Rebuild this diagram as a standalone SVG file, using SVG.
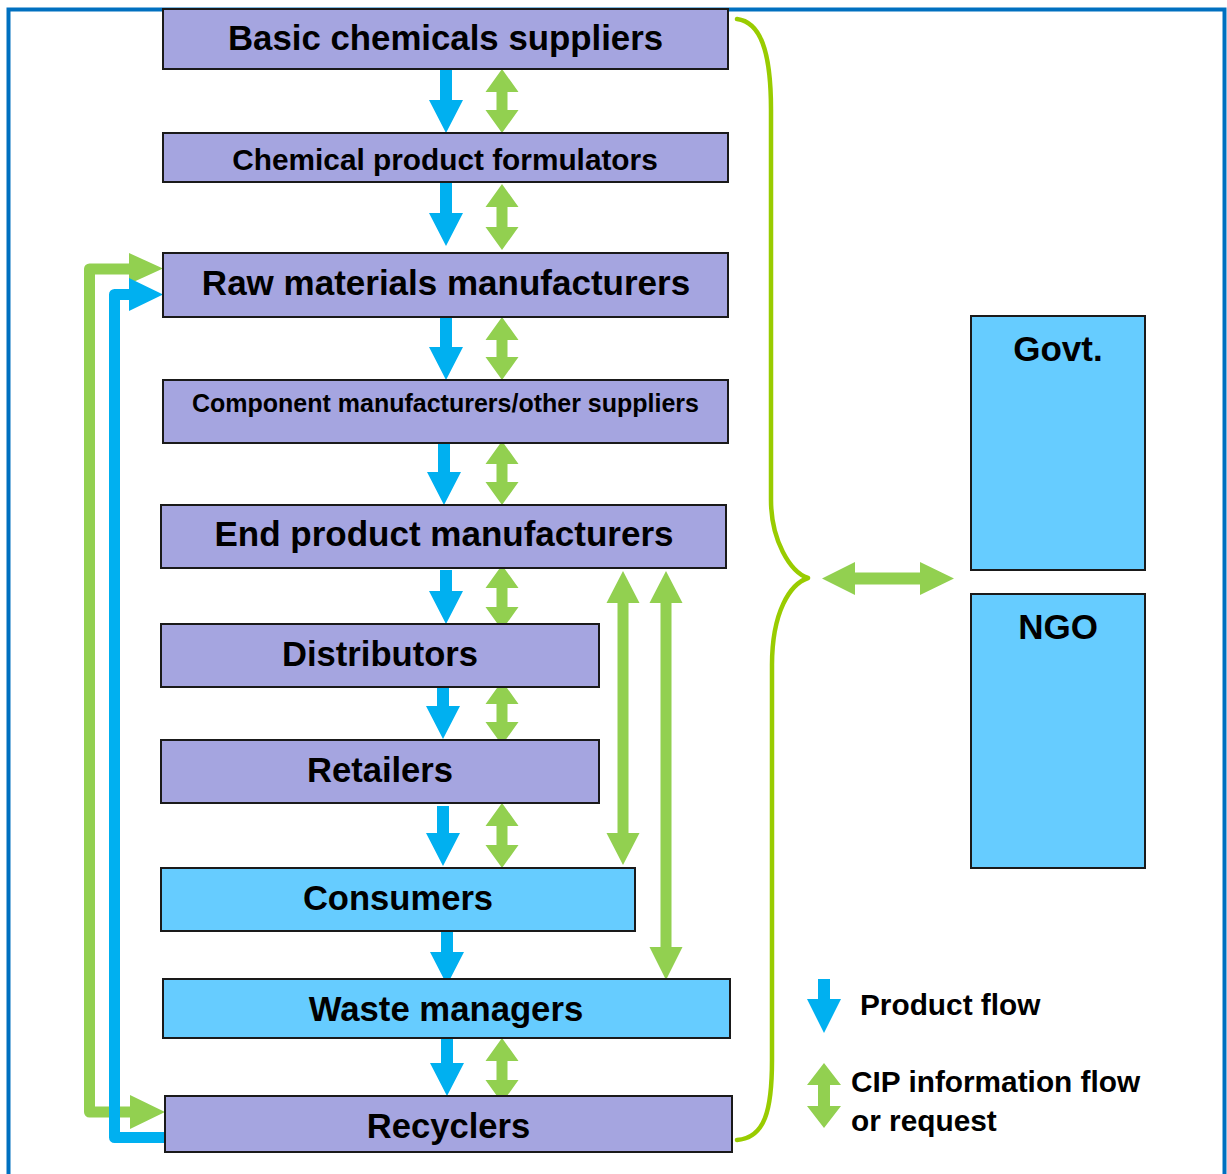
<svg xmlns="http://www.w3.org/2000/svg" width="1227" height="1174" viewBox="0 0 1227 1174">
<style>
.frame{fill:none;stroke:#0070C0;stroke-width:4}
.box{stroke:#1a1a1a;stroke-width:2}
.purple{fill:#A5A5E0}
.lblue{fill:#66CCFF}
.t{font-family:"Liberation Sans",Arial,sans-serif;font-weight:bold;fill:#000;text-anchor:middle}
.lt{font-family:"Liberation Sans",Arial,sans-serif;font-weight:bold;fill:#000}
.ba{fill:#00B0F0}
.ga{fill:#92D050}
.gl{fill:none;stroke:#92D050;stroke-width:11;stroke-linejoin:round}
.bl{fill:none;stroke:#00B0F0;stroke-width:11;stroke-linejoin:round}
.brace{fill:none;stroke:#99CC00;stroke-width:4.5;stroke-linecap:round;stroke-linejoin:round}
</style>
<rect class="frame" x="8.5" y="9.5" width="1216" height="1200"/>

<g id="connectors">
  <!-- product flow (blue) arrows -->
  <polygon class="ba" points="440,69 452,69 452,100 463,100 446,133 429,100 440,100"/>
  <polygon class="ba" points="440,182 452,182 452,213 463,213 446,246 429,213 440,213"/>
  <polygon class="ba" points="440,317 452,317 452,347 463,347 446,380 429,347 440,347"/>
  <polygon class="ba" points="438,441 450,441 450,472 461,472 444,505 427,472 438,472"/>
  <polygon class="ba" points="440,570 452,570 452,591 463,591 446,624 429,591 440,591"/>
  <polygon class="ba" points="437,687 449,687 449,706 460,706 443,739 426,706 437,706"/>
  <polygon class="ba" points="437,806 449,806 449,833 460,833 443,866 426,833 437,833"/>
  <polygon class="ba" points="441,931 453,931 453,952 464,952 447,985 430,952 441,952"/>
  <polygon class="ba" points="441,1038 453,1038 453,1063 464,1063 447,1096 430,1063 441,1063"/>

  <!-- CIP (green) double arrows -->
  <polygon class="ga" points="502,69 518.5,92 507.5,92 507.5,110 518.5,110 502,133 485.5,110 496.5,110 496.5,92 485.5,92"/>
  <polygon class="ga" points="502,184 518.5,207 507.5,207 507.5,227 518.5,227 502,250 485.5,227 496.5,227 496.5,207 485.5,207"/>
  <polygon class="ga" points="502,317 518.5,340 507.5,340 507.5,357 518.5,357 502,380 485.5,357 496.5,357 496.5,340 485.5,340"/>
  <polygon class="ga" points="502,441 518.5,464 507.5,464 507.5,482 518.5,482 502,505 485.5,482 496.5,482 496.5,464 485.5,464"/>
  <polygon class="ga" points="502,565 518.5,588 507.5,588 507.5,607 518.5,607 502,630 485.5,607 496.5,607 496.5,588 485.5,588"/>
  <polygon class="ga" points="502,681 518.5,704 507.5,704 507.5,722 518.5,722 502,745 485.5,722 496.5,722 496.5,704 485.5,704"/>
  <polygon class="ga" points="502,803 518.5,826 507.5,826 507.5,845 518.5,845 502,868 485.5,845 496.5,845 496.5,826 485.5,826"/>
  <polygon class="ga" points="502,1038 518.5,1061 507.5,1061 507.5,1080 518.5,1080 502,1103 485.5,1080 496.5,1080 496.5,1061 485.5,1061"/>

  <!-- tall green double arrows -->
  <polygon class="ga" points="623,571 639.5,603 628.5,603 628.5,833 639.5,833 623,865 606.5,833 617.5,833 617.5,603 606.5,603"/>
  <polygon class="ga" points="666,571 682.5,603 671.5,603 671.5,947 682.5,947 666,980 649.5,947 660.5,947 660.5,603 649.5,603"/>

  <!-- left loop: green (CIP) -->
  <polyline class="gl" points="131,1112 89.5,1112 89.5,269 131,269"/>
  <polygon class="ga" points="129,253 163,268.5 129,284"/>
  <polygon class="ga" points="130,1095 165,1112 130,1129"/>
  <!-- left loop: blue (product) -->
  <polyline class="bl" points="165,1137.5 114.5,1137.5 114.5,294.5 131,294.5"/>
  <polygon class="ba" points="129,278 163,294.5 129,311"/>

  <!-- brace -->
  <path class="brace" d="M737,19 C760,22 771,50 771,110 L771,500 C771,540 790,572 808,578 C790,584 772,612 772,665 L772,1060 C772,1110 765,1138 737,1140"/>

  <!-- horizontal double arrow to Govt/NGO -->
  <polygon class="ga" points="822,578.5 855,562 855,572.5 920,572.5 920,562 954,578.5 920,595 920,584.5 855,584.5 855,595"/>
</g>

<g id="basic-chemicals-suppliers">
  <rect class="box purple" x="163" y="9" width="565" height="60"/>
  <text class="t" x="445.5" y="50" font-size="34.8">Basic chemicals suppliers</text>
</g>
<g id="chemical-product-formulators">
  <rect class="box purple" x="163" y="133" width="565" height="49"/>
  <text class="t" x="445" y="170" font-size="29.8">Chemical product formulators</text>
</g>
<g id="raw-materials-manufacturers">
  <rect class="box purple" x="163" y="253" width="565" height="64"/>
  <text class="t" x="446" y="295" font-size="35">Raw materials manufacturers</text>
</g>
<g id="component-manufacturers">
  <rect class="box purple" x="163" y="380" width="565" height="63"/>
  <text class="t" x="445.5" y="412" font-size="25">Component manufacturers/other suppliers</text>
</g>
<g id="end-product-manufacturers">
  <rect class="box purple" x="161" y="505" width="565" height="63"/>
  <text class="t" x="444" y="546" font-size="35">End product manufacturers</text>
</g>
<g id="distributors">
  <rect class="box purple" x="161" y="624" width="438" height="63"/>
  <text class="t" x="380" y="666" font-size="34.6">Distributors</text>
</g>
<g id="retailers">
  <rect class="box purple" x="161" y="740" width="438" height="63"/>
  <text class="t" x="380" y="782" font-size="34.6">Retailers</text>
</g>
<g id="consumers">
  <rect class="box lblue" x="161" y="868" width="474" height="63"/>
  <text class="t" x="398" y="910" font-size="34.6">Consumers</text>
</g>
<g id="waste-managers">
  <rect class="box lblue" x="163" y="979" width="567" height="59"/>
  <text class="t" x="446" y="1021" font-size="34.7">Waste managers</text>
</g>
<g id="recyclers">
  <rect class="box purple" x="165" y="1096" width="567" height="56"/>
  <text class="t" x="448.5" y="1138" font-size="34.6">Recyclers</text>
</g>
<g id="govt">
  <rect class="box lblue" x="971" y="316" width="174" height="254"/>
  <text class="t" x="1058" y="361" font-size="35">Govt.</text>
</g>
<g id="ngo">
  <rect class="box lblue" x="971" y="594" width="174" height="274"/>
  <text class="t" x="1058" y="639" font-size="35">NGO</text>
</g>

<g id="legend">
  <polygon class="ba" points="818,979 830,979 830,999 841,999 824,1033 807,999 818,999"/>
  <text class="lt" x="860" y="1015" font-size="29.8">Product flow</text>
  <polygon class="ga" points="824,1063 841,1085 830,1085 830,1106 841,1106 824,1128 807,1106 818,1106 818,1085 807,1085"/>
  <text class="lt" x="851" y="1092" font-size="29.8">CIP information flow</text>
  <text class="lt" x="851" y="1131" font-size="29.8">or request</text>
</g>
</svg>
